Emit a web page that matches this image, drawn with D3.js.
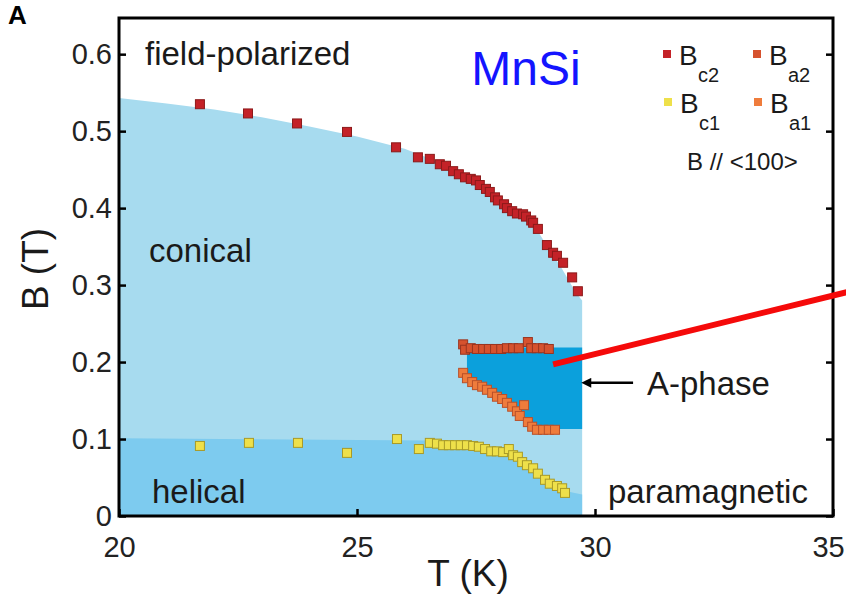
<!DOCTYPE html>
<html>
<head>
<meta charset="utf-8">
<script src="https://cdn.jsdelivr.net/npm/d3@7"></script>
<style>
    body { margin: 0; background: #fff; }
    svg text { font-family: "Liberation Sans", Arial, Helvetica, sans-serif; }
</style>
</head>
<body>
<div id="chart"></div>
<script>

// tick values
let xTicks = [20, 25, 30, 35];
let yTicks = [0, 0.1, 0.2, 0.3, 0.4, 0.5, 0.6];

// Bc2 (upper critical field) [T, B]
let bc2 = [[21.70,0.535],[22.71,0.523],[23.74,0.510],[24.79,0.499],[25.82,0.479],[26.28,0.466],
    [26.53,0.464],[26.74,0.457],[26.87,0.455],[27.02,0.448],[27.14,0.444],[27.27,0.440],[27.39,0.438],
    [27.50,0.436],[27.58,0.430],[27.71,0.425],[27.79,0.421],[27.90,0.414],[27.96,0.410],[28.09,0.405],
    [28.15,0.400],[28.26,0.396],[28.36,0.393],[28.49,0.392],[28.55,0.389],[28.66,0.384],[28.70,0.381],
    [28.80,0.373],[28.99,0.352],[29.12,0.342],[29.20,0.338],[29.33,0.329],[29.52,0.310],[29.64,0.292]];

// Ba2 (upper A-phase boundary)
let ba2 = [[27.23,0.223],[27.27,0.216],[27.39,0.218],[27.52,0.217],[27.65,0.217],[27.77,0.217],
    [27.90,0.217],[28.03,0.217],[28.15,0.218],[28.28,0.218],[28.40,0.218],[28.59,0.226],[28.66,0.218],
    [28.78,0.218],[28.91,0.218],[29.03,0.217]];

// Ba1 (lower A-phase boundary)
let ba1 = [[27.23,0.186],[27.31,0.179],[27.42,0.174],[27.52,0.170],[27.63,0.168],[27.73,0.164],
    [27.84,0.160],[27.94,0.155],[28.05,0.152],[28.15,0.147],[28.26,0.142],[28.36,0.136],[28.42,0.130],
    [28.51,0.144],[28.59,0.122],[28.68,0.116],[28.78,0.112],[28.91,0.112],[29.03,0.112],[29.16,0.112]];

// Bc1 (helical -> conical)
let bc1 = [[21.70,0.091],[22.73,0.095],[23.76,0.095],[24.79,0.082],[25.84,0.100],[26.30,0.087],
    [26.53,0.095],[26.68,0.094],[26.81,0.092],[26.93,0.092],[27.06,0.092],[27.18,0.092],[27.31,0.092],
    [27.44,0.091],[27.56,0.090],[27.69,0.087],[27.82,0.084],[27.94,0.084],[28.07,0.083],[28.19,0.087],
    [28.28,0.079],[28.38,0.077],[28.47,0.070],[28.57,0.066],[28.70,0.062],[28.80,0.055],[28.95,0.047],
    [29.05,0.042],[29.20,0.039],[29.31,0.036],[29.37,0.030]];

// phase region outlines
let conicalRegion = [[20,0],[20,0.543],[21,0.536],[22,0.528],[23,0.518],[24,0.506],[25,0.493],
    [26,0.477],[26.5,0.465],[27,0.450],[27.5,0.432],[28,0.408],[28.5,0.388],[28.8,0.370],[29,0.350],
    [29.3,0.322],[29.6,0.290],[29.73,0.280],[29.73,0]];
let helicalRegion = [[20,0],[20,0.101],[26.5,0.098],[27.5,0.092],[28,0.086],[28.5,0.072],
    [29,0.048],[29.4,0.032],[29.73,0.028],[29.73,0]];
let aPhaseRegion = [[27.31,0.219],[29.73,0.219],[29.73,0.113],[28.8,0.113],[28.6,0.124],
    [28.0,0.156],[27.31,0.183]];

// annotations
let redLine = [[29.12,0.197],[35.3,0.291]];
let arrowLine = [[30.80,0.173],[29.90,0.173]];

// layout
let width = 846, height = 597;
let svg = d3.select("#chart").append("svg")
    .attr("width", width)
    .attr("height", height);

let x = d3.scaleLinear().domain([20, 35]).range([119, 833]);
let y = d3.scaleLinear().domain([0, 0.647]).range([516, 18]);

let area = d3.line().x(d => x(d[0])).y(d => y(d[1]));

// regions
svg.append("path").attr("d", area(conicalRegion) + "Z").attr("fill", "#a7dbef");
svg.append("path").attr("d", area(helicalRegion) + "Z").attr("fill", "#7dcbef");
svg.append("path").attr("d", area(aPhaseRegion) + "Z").attr("fill", "#0ba0dc");

// axes (inward ticks)
let yAxis = d3.axisLeft(y).tickValues(yTicks).tickSize(-7).tickPadding(7)
    .tickFormat(d => d === 0 ? "0" : d3.format(".1f")(d));
let xAxis = d3.axisBottom(x).tickValues(xTicks).tickSize(-7).tickPadding(20);

let gy = svg.append("g").attr("transform", "translate(" + x(20) + ",0)").call(yAxis);
let gx = svg.append("g").attr("transform", "translate(0," + y(0) + ")").call(xAxis);
let gr = svg.append("g").attr("transform", "translate(" + x(35) + ",0)")
    .call(d3.axisRight(y).tickValues(yTicks).tickSize(-7).tickFormat(""));

[gy, gx, gr].forEach(g => {
    g.select(".domain").remove();
    g.selectAll(".tick line").attr("stroke", "#000").attr("stroke-width", 2.5);
    g.selectAll(".tick text").attr("font-size", 29).attr("fill", "#222");
});
// last x label sits at the picture edge
gx.selectAll(".tick text").filter(d => d === 35).attr("dx", -5);

// frame
svg.append("rect")
    .attr("x", x(20)).attr("y", y(0.647))
    .attr("width", x(35) - x(20)).attr("height", y(0) - y(0.647))
    .attr("fill", "none").attr("stroke", "#000").attr("stroke-width", 3);

// data points
function drawSquares(data, fill, stroke) {
    svg.append("g").selectAll("rect")
        .data(data)
        .enter()
        .append("rect")
        .attr("x", d => x(d[0]) - 4.5)
        .attr("y", d => y(d[1]) - 4.5)
        .attr("width", 9).attr("height", 9)
        .attr("fill", fill)
        .attr("stroke", stroke)
        .attr("stroke-width", 1);
}
drawSquares(bc1, "#eee04a", "#a89a28");
drawSquares(ba1, "#ef7c3c", "#b8502a");
drawSquares(ba2, "#d6522e", "#9a3520");
drawSquares(bc2, "#c42228", "#8c1a1a");

// region labels
let labels = [
    {t: "field-polarized", x: 145, y: 65},
    {t: "conical", x: 149, y: 262},
    {t: "helical", x: 152, y: 503},
    {t: "paramagnetic", x: 608, y: 503},
    {t: "A-phase", x: 647, y: 395}
];
svg.selectAll(".rlabel")
    .data(labels)
    .enter()
    .append("text")
    .attr("class", "rlabel")
    .attr("x", d => d.x).attr("y", d => d.y)
    .attr("font-size", 33)
    .attr("fill", "#1a1a1a")
    .text(d => d.t);

// MnSi title
svg.append("text")
    .attr("x", 526).attr("y", 85)
    .attr("text-anchor", "middle")
    .attr("font-size", 48)
    .attr("fill", "#1414ff")
    .text("MnSi");

// axis titles
svg.append("text")
    .attr("x", 468).attr("y", 586)
    .attr("text-anchor", "middle")
    .attr("font-size", 37)
    .attr("fill", "#1a1a1a")
    .text("T (K)");
svg.append("text")
    .attr("transform", "translate(48,269) rotate(-90)")
    .attr("text-anchor", "middle")
    .attr("font-size", 37)
    .attr("fill", "#1a1a1a")
    .text("B (T)");

// panel letter
svg.append("text")
    .attr("x", 8).attr("y", 24)
    .attr("font-size", 26).attr("font-weight", "bold")
    .text("A");

// legend
let legend = [
    {sub: "c2", color: "#c42228", x: 667, y: 54},
    {sub: "a2", color: "#d6522e", x: 757, y: 54},
    {sub: "c1", color: "#eee04a", x: 668, y: 102},
    {sub: "a1", color: "#ef7c3c", x: 758, y: 102}
];
let lg = svg.append("g").selectAll("g")
    .data(legend)
    .enter()
    .append("g");
lg.append("rect")
    .attr("x", d => d.x - 4).attr("y", d => d.y - 4)
    .attr("width", 8).attr("height", 8)
    .attr("fill", d => d.color);
lg.append("text")
    .attr("x", d => d.x + 12).attr("y", d => d.y + 11)
    .attr("font-size", 28).attr("fill", "#1a1a1a")
    .text("B");
lg.append("text")
    .attr("x", d => d.x + 31).attr("y", d => d.y + 28)
    .attr("font-size", 20).attr("fill", "#1a1a1a")
    .text(d => d.sub);
svg.append("text")
    .attr("x", 687).attr("y", 170)
    .attr("font-size", 24).attr("fill", "#1a1a1a")
    .text("B // <100>");

// arrow to A-phase
svg.append("defs").append("marker")
    .attr("id", "arrowhead")
    .attr("viewBox", "0 0 10 10")
    .attr("refX", 1).attr("refY", 5)
    .attr("markerWidth", 5).attr("markerHeight", 4)
    .attr("orient", "auto")
    .append("path").attr("d", "M0,0 L10,5 L0,10 Z").attr("fill", "#000");
svg.append("path")
    .attr("d", area(arrowLine))
    .attr("stroke", "#000").attr("stroke-width", 2.5)
    .attr("marker-end", "url(#arrowhead)");

// red annotation line
svg.append("path")
    .attr("d", area(redLine))
    .attr("stroke", "#f50a0a").attr("stroke-width", 6)
    .attr("fill", "none");

</script>
</body>
</html>
